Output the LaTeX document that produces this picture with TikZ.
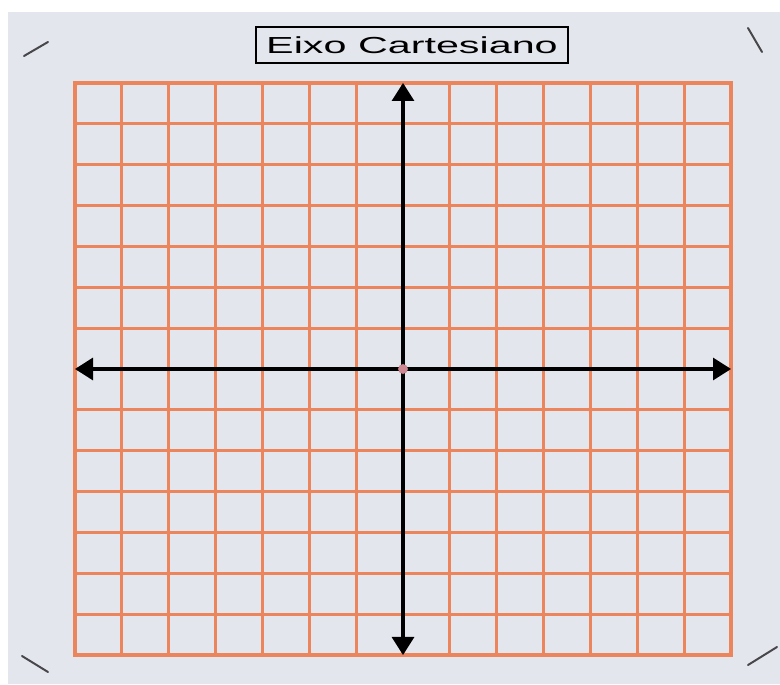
\documentclass[tikz,border=0pt]{standalone}
\usepackage{fontspec}
\setmainfont{Liberation Sans}
\usetikzlibrary{arrows.meta}

\definecolor{papel}{RGB}{228,230,237}
\definecolor{quadricula}{RGB}{236,132,92}
\definecolor{origem}{RGB}{205,135,145}
\definecolor{marca}{RGB}{70,70,75}

\tikzset{
  gridline/.style={quadricula, line width=2.2pt, line cap=rect},
  eixo/.style={black, line width=2.2pt,
    {Triangle[length=0.45cm,width=0.55cm]}-{Triangle[length=0.45cm,width=0.55cm]}},
  cornermark/.style={marca, line width=1.4pt, line cap=round},
}

\begin{document}
\begin{tikzpicture}[x=0.025cm, y=0.025cm]
    \useasboundingbox (0,0) rectangle (780,684);

    % Paper (scan has a thin white strip at top and left)
    \fill[white] (0,0) rectangle (780,684);
    \fill[papel] (8,0) rectangle (780,672);

    % Title box
    \node[draw, line width=1.2pt, minimum width=7.8cm, minimum height=0.9cm,
          inner sep=0pt] (titulo) at (412,639)
        {\scalebox{1.78}[1]{\fontsize{16.5}{18}\selectfont Eixo Cartesiano}};

    % Grid: 14 x 14 squares, axes on the middle lines
    \foreach \i in {0,...,14} {
        \draw[gridline] ({75+\i*46.857},29) -- ({75+\i*46.857},601);
        \draw[gridline] (75,{29+\i*40.857}) -- (731,{29+\i*40.857});
    }
    \coordinate (esq) at (75,315);
    \coordinate (dir) at (731,315);
    \coordinate (baixo) at (403,29);
    \coordinate (cima) at (403,601);
    \coordinate (origem) at (403,315);

    % Axes with arrows at both ends
    \draw[eixo] (esq) -- (dir);
    \draw[eixo] (baixo) -- (cima);
    \fill[origem] (origem) circle (3.5pt);

    % Crop marks in the corners
    \draw[cornermark] (24,628) -- (48,642);
    \draw[cornermark] (748,656) -- (762,632);
    \draw[cornermark] (22,28) -- (48,12);
    \draw[cornermark] (748,19) -- (777,37);
\end{tikzpicture}
\end{document}
